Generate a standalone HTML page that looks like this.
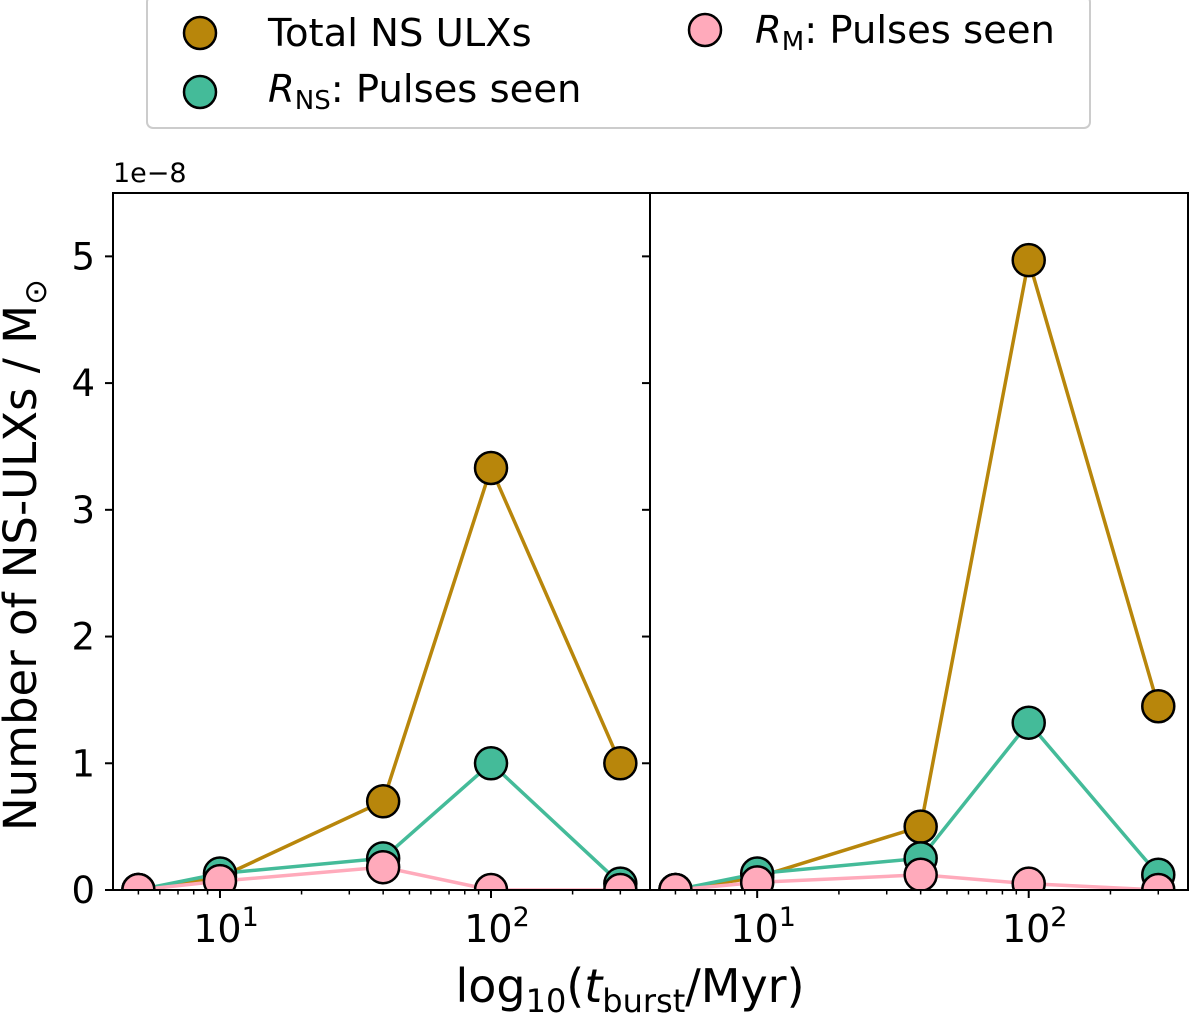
<!DOCTYPE html>
<html><head><meta charset="utf-8"><style>
body{margin:0;background:#fff}
svg{font-family:"DejaVu Sans","Liberation Sans",sans-serif}
</style></head><body>
<svg id="c" width="1200" height="1014">
<defs id="defs"></defs>
<g>
<rect x="147" y="-4" width="943" height="132" rx="6" fill="#fff" stroke="#ccc" stroke-width="2"/>
<circle cx="200" cy="33" r="16" fill="#b8860b" stroke="#000" stroke-width="2.5"/>
<text x="268" y="46" font-size="38.5">Total NS ULXs</text>
<circle cx="200" cy="92" r="16" fill="#44bb99" stroke="#000" stroke-width="2.5"/>
<text x="268" y="102" font-size="38.5"><tspan font-style="italic">R</tspan><tspan font-size="26" dy="7">NS</tspan><tspan dy="-7">: Pulses seen</tspan></text>
<circle cx="705" cy="30" r="16" fill="#ffaabb" stroke="#000" stroke-width="2.5"/>
<text x="755" y="43" font-size="38.5"><tspan font-style="italic">R</tspan><tspan font-size="26" dy="7">M</tspan><tspan dy="-7">: Pulses seen</tspan></text>
</g>
<text x="113" y="182" font-size="27">1e−8</text>
<text x="630" y="1002" font-size="46" text-anchor="middle">log<tspan font-size="32" dy="10">10</tspan><tspan dy="-10">(</tspan><tspan font-style="italic">t</tspan><tspan font-size="32" dy="10">burst</tspan><tspan dy="-10">/Myr)</tspan></text>
<text transform="translate(36,555) rotate(-90)" font-size="45" text-anchor="middle">Number of NS-ULXs / M<tspan font-size="31" dy="10">⊙</tspan></text>
<g id="plots"></g>
</svg>
<script>
const xs = [5, 10, 40, 100, 300];
const leftTotal = [0, 0.1, 0.7, 3.33, 1.0];
const leftNS = [0, 0.13, 0.25, 1.0, 0.05];
const leftM = [0, 0.07, 0.18, 0, 0];
const rightTotal = [0, 0.1, 0.5, 4.97, 1.45];
const rightNS = [0, 0.13, 0.25, 1.32, 0.12];
const rightM = [0, 0.06, 0.12, 0.05, 0];
const yTicks = [0, 1, 2, 3, 4, 5];
const NS = 'http://www.w3.org/2000/svg';
const g = document.getElementById('plots');
const defs = document.getElementById('defs');
const top_ = 193, bot = 890, yMax = 5.5, xMinL = Math.log10(4.03), xMaxL = Math.log10(386);
function el(t, a, p) { const e = document.createElementNS(NS, t); for (const k in a) e.setAttribute(k, a[k]); (p || g).appendChild(e); return e; }
function panel(x0, x1, series, idx) {
  const X = v => x0 + (Math.log10(v) - xMinL) / (xMaxL - xMinL) * (x1 - x0);
  const Y = v => bot - v / yMax * (bot - top_);
  const pg = el('g', {});
  
  
  const cp = el('clipPath', { id: 'cp' + idx }, defs);
  el('rect', { x: x0, y: top_, width: x1 - x0, height: bot - top_ }, cp);
  const cols = ['#b8860b', '#44bb99', '#ffaabb'];
  const names = ['total', 'rns', 'rm'];
  series.forEach((s, i) => {
    const sg = el('g', { 'clip-path': 'url(#cp' + idx + ')' }, pg);
    
    
    el('polyline', { points: s.map((v, j) => X(xs[j]) + ',' + Y(v)).join(' '), fill: 'none', stroke: cols[i], 'stroke-width': 3.5 }, sg);
    s.forEach((v, j) => {
      const c = el('circle', { cx: X(xs[j]), cy: Y(v), r: 16, fill: cols[i], stroke: '#000', 'stroke-width': 2.5 }, sg);
      
      
    });
  });
  el('rect', { x: x0, y: top_, width: x1 - x0, height: bot - top_, fill: 'none', stroke: '#000', 'stroke-width': 2 }, pg);
  yTicks.forEach(t => {
    el('line', { x1: x0 - 8, x2: x0, y1: Y(t), y2: Y(t), stroke: '#000', 'stroke-width': 2 }, pg);
    if (idx === 0) {
      const tx = el('text', { x: x0 - 18, y: Y(t) + 13, 'font-size': 37, 'text-anchor': 'end' }, pg);
      tx.textContent = t;
      
      
    }
  });
  for (let d = 0; d <= 2; d++) for (let m = 1; m < 10; m++) {
    const v = m * Math.pow(10, d);
    const lv = Math.log10(v);
    if (lv < xMinL || lv > xMaxL) continue;
    el('line', { x1: X(v), x2: X(v), y1: bot, y2: bot + (m === 1 ? 8 : 4.5), stroke: '#000', 'stroke-width': m === 1 ? 2 : 1.5 }, pg);
    if (m === 1) {
      const tx = el('text', { x: X(v) + 6, y: bot + 52, 'font-size': 38, 'text-anchor': 'middle' }, pg);
      tx.innerHTML = '10<tspan font-size="27" dy="-16">' + d + '</tspan>';
      
      
    }
  }
}
panel(113, 650, [leftTotal, leftNS, leftM], 0);
panel(650, 1188, [rightTotal, rightNS, rightM], 1);
</script>
</body></html>
